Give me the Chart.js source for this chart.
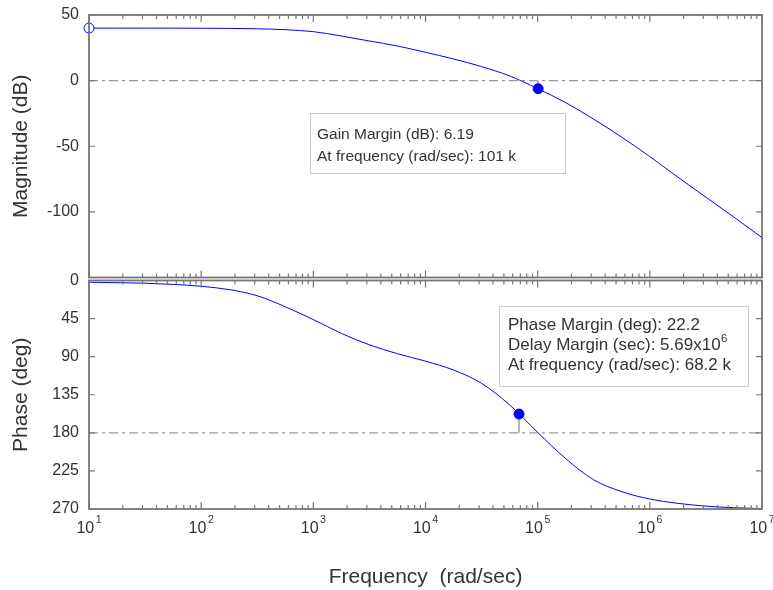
<!DOCTYPE html>
<html>
<head>
<meta charset="utf-8">
<script src="https://cdn.jsdelivr.net/npm/chart.js@4.4.1/dist/chart.umd.min.js"></script>
<style>
  html, body { margin: 0; padding: 0; background: #fff; }
  #wrap { position: relative; width: 773px; height: 590px; overflow: hidden; }
  #wrap canvas { position: absolute; left: 0; top: 0; }
</style>
</head>
<body>
<div id="wrap">
  <canvas id="mag" width="773" height="590"></canvas>
  <canvas id="phase" width="773" height="590"></canvas>
</div>
<script>
// Open-loop frequency response samples (rad/sec)
const freq = [10, 17.8, 31.6, 56.2, 100, 178, 316, 562, 1e3, 1.78e3, 3.16e3, 5.62e3,
              1e4, 1.78e4, 3.16e4, 5.62e4, 1e5, 1.78e5, 3.16e5, 5.62e5,
              1e6, 1.78e6, 3.16e6, 5.62e6, 1e7];
// Magnitude in dB
const magnitudeDb = [40, 40, 40, 40, 39.9, 39.8, 39.5, 38.8, 37.3, 34.0, 30.2, 26.4,
                     21.6, 16.5, 10.7, 3.6, -6.1, -16.8, -29.4, -43.1,
                     -57.9, -73.6, -88.8, -104, -119.6];
// Phase lag in degrees
const phaseDeg = [2.0, 2.6, 3.2, 4.6, 6.8, 10.8, 18, 31, 46.2, 62.5, 76, 86.5,
                  95.3, 105.8, 121.5, 147, 179.5, 210.5, 235.5, 249.5,
                  258.2, 263.3, 266.6, 268.5, 269.6];

// Stability margins
const gainMarginDb = 6.19;
const gainCrossFreq = 101000;
const phaseMarginDeg = 22.2;
const delayMargin = ['5.69x10', '6'];
const phaseCrossFreq = 68200;

// Axis ticks
const freqDecades = [1e1, 1e2, 1e3, 1e4, 1e5, 1e6, 1e7];
const magTicks = [50, 0, -50, -100];
const phaseTicks = [0, 45, 90, 135, 180, 225, 270];

const FONT = '"Liberation Sans", Arial, sans-serif';
const TEXT = '#333333';
const BLUE = '#0000ff';
const FRAME = '#777777';

// log axis: decades plus 2..9 minor marks
function freqTickValues() {
  const out = [];
  freqDecades.forEach((d, i) => {
    out.push(d);
    if (i < freqDecades.length - 1) for (let k = 2; k <= 9; k++) out.push(d * k);
  });
  return out.map(v => ({ value: v }));
}

function isDecade(v) {
  const lg = Math.log10(v);
  return Math.abs(lg - Math.round(lg)) < 1e-6;
}

// box frame with inward tick marks on all four sides
function drawFrame(chart) {
  const ctx = chart.ctx;
  const { left, right, top, bottom } = chart.chartArea;
  const xs = chart.scales.x, ys = chart.scales.y;
  ctx.save();
  ctx.strokeStyle = FRAME;
  ctx.lineWidth = 1.2;
  ctx.beginPath();
  xs.ticks.forEach(t => {
    const px = xs.getPixelForValue(t.value);
    const len = isDecade(t.value) ? 7 : 4;
    ctx.moveTo(px, top); ctx.lineTo(px, top + len);
    ctx.moveTo(px, bottom); ctx.lineTo(px, bottom - len);
  });
  ys.ticks.forEach(t => {
    const py = ys.getPixelForValue(t.value);
    ctx.moveTo(left, py); ctx.lineTo(left + 6, py);
    ctx.moveTo(right, py); ctx.lineTo(right - 6, py);
  });
  ctx.stroke();
  ctx.lineWidth = 1.8;
  ctx.strokeRect(left, top, right - left, bottom - top);
  ctx.restore();
}

// text box; each line is a list of [text, superscript?] runs
function drawNote(ctx, box, lines) {
  ctx.save();
  ctx.fillStyle = '#ffffff';
  ctx.fillRect(box.x, box.y, box.w, box.h);
  ctx.strokeStyle = '#c8c8c8';
  ctx.lineWidth = 1;
  ctx.strokeRect(box.x + 0.5, box.y + 0.5, box.w, box.h);
  ctx.fillStyle = TEXT;
  ctx.textBaseline = 'middle';
  ctx.textAlign = 'left';
  lines.forEach((runs, i) => {
    let x = box.x + box.padX;
    const y = box.y + box.firstLine + i * box.lineGap;
    runs.forEach(([txt, sup]) => {
      ctx.font = (sup ? box.supSize : box.size) + 'px ' + FONT;
      ctx.fillText(txt, x, sup ? y - 6 : y);
      x += ctx.measureText(txt).width + (sup ? 0 : 0.5);
    });
  });
  ctx.restore();
}

const lineStyle = {
  borderColor: BLUE, borderWidth: 1, pointRadius: 0,
  cubicInterpolationMode: 'monotone', fill: false, order: 1
};
const refStyle = {
  borderColor: '#999999', borderWidth: 1.3, borderDash: [9, 4, 3, 4],
  pointRadius: 0, fill: false, order: 3
};
const stemStyle = {
  borderColor: '#8a8a8a', borderWidth: 1.2, pointRadius: 0, fill: false, order: 2
};

function xScale(extra) {
  return Object.assign({
    type: 'logarithmic', min: freqDecades[0], max: freqDecades[freqDecades.length - 1],
    grid: { display: false, drawTicks: false },
    border: { display: false },
    ticks: { display: false },
    afterBuildTicks: s => { s.ticks = freqTickValues(); }
  }, extra);
}

function yScale(ticksArr, extra) {
  return Object.assign({
    type: 'linear',
    grid: { display: false, drawTicks: false },
    border: { display: false },
    afterBuildTicks: s => { s.ticks = ticksArr.map(v => ({ value: v })); },
    afterFit: s => { s.width = 89; s.paddingTop = 0; s.paddingBottom = 0; },
    ticks: { color: TEXT, padding: 10, font: { family: FONT, size: 16 } }
  }, extra);
}

const titleFont = { family: FONT, size: 21 };

// ---------- Magnitude ----------
new Chart(document.getElementById('mag'), {
  type: 'line',
  data: {
    datasets: [
      Object.assign({ data: [{ x: freqDecades[0], y: 0 }, { x: freqDecades[6], y: 0 }] }, refStyle),
      Object.assign({ data: [{ x: gainCrossFreq, y: 0 }, { x: gainCrossFreq, y: -gainMarginDb }] }, stemStyle),
      Object.assign({ data: freq.map((f, i) => ({ x: f, y: magnitudeDb[i] })) }, lineStyle),
      { data: [{ x: freq[0], y: magnitudeDb[0] }], showLine: false, clip: false, order: 0,
        pointRadius: 5, pointBackgroundColor: '#ffffff', pointBorderColor: BLUE, pointBorderWidth: 1 },
      { data: [{ x: gainCrossFreq, y: -gainMarginDb }], showLine: false, clip: false, order: 0,
        pointRadius: 5, pointBackgroundColor: BLUE, pointBorderColor: BLUE, pointBorderWidth: 1 }
    ]
  },
  options: {
    responsive: false, animation: false, devicePixelRatio: 1,
    layout: { padding: { top: 15, right: 11, left: 0, bottom: 0 } },
    plugins: { legend: { display: false }, tooltip: { enabled: false } },
    scales: {
      x: xScale({ afterFit: s => { s.height = 312.5; } }),
      y: yScale(magTicks, {
        min: -150, max: 50,
        title: { display: true, text: 'Magnitude (dB)', color: TEXT,
                 font: titleFont, padding: { top: 9, bottom: 0 } }
      })
    }
  },
  plugins: [{
    id: 'magDecor',
    afterDatasetsDraw: chart => drawFrame(chart),
    afterDraw: chart => drawNote(chart.ctx,
      { x: 310, y: 113, w: 255, h: 60, padX: 7, firstLine: 22, lineGap: 22, size: 15.5, supSize: 10.5 },
      [[['Gain Margin (dB): ' + gainMarginDb]],
       [['At frequency (rad/sec): ' + (gainCrossFreq / 1000) + ' k']]])
  }]
});

// ---------- Phase ----------
new Chart(document.getElementById('phase'), {
  type: 'line',
  data: {
    datasets: [
      Object.assign({ data: [{ x: freqDecades[0], y: 180 }, { x: freqDecades[6], y: 180 }] }, refStyle),
      Object.assign({ data: [{ x: phaseCrossFreq, y: 180 }, { x: phaseCrossFreq, y: 180 - phaseMarginDeg }] }, stemStyle),
      Object.assign({ data: freq.map((f, i) => ({ x: f, y: phaseDeg[i] })) }, lineStyle),
      { data: [{ x: phaseCrossFreq, y: 180 - phaseMarginDeg }], showLine: false, clip: false, order: 0,
        pointRadius: 5, pointBackgroundColor: BLUE, pointBorderColor: BLUE, pointBorderWidth: 1 }
    ]
  },
  options: {
    responsive: false, animation: false, devicePixelRatio: 1,
    layout: { padding: { top: 280.5, right: 11, left: 0, bottom: 0 } },
    plugins: { legend: { display: false }, tooltip: { enabled: false } },
    scales: {
      x: xScale({
        afterFit: s => { s.height = 81; },
        title: { display: true, text: 'Frequency  (rad/sec)', color: TEXT,
                 font: titleFont, padding: { top: 0, bottom: 0 } }
      }),
      y: yScale(phaseTicks, {
        min: 0, max: 270, reverse: true,
        title: { display: true, text: 'Phase (deg)', color: TEXT,
                 font: titleFont, padding: { top: 9, bottom: 0 } }
      })
    }
  },
  plugins: [{
    id: 'phaseDecor',
    afterDatasetsDraw: chart => {
      drawFrame(chart);
      // decade labels 10^n under the axis
      const ctx = chart.ctx, xs = chart.scales.x;
      ctx.save();
      ctx.fillStyle = TEXT;
      ctx.textBaseline = 'alphabetic';
      ctx.textAlign = 'left';
      freqDecades.forEach(d => {
        const px = xs.getPixelForValue(d);
        const exp = String(Math.round(Math.log10(d)));
        ctx.font = '16px ' + FONT;
        const w1 = ctx.measureText('10').width;
        ctx.font = '10.5px ' + FONT;
        const w2 = ctx.measureText(exp).width;
        const x0 = px - (w1 + 1.5 + w2) / 2;
        ctx.font = '16px ' + FONT;
        ctx.fillText('10', x0, 533);
        ctx.font = '10.5px ' + FONT;
        ctx.fillText(exp, x0 + w1 + 1.5, 523);
      });
      ctx.restore();
    },
    afterDraw: chart => drawNote(chart.ctx,
      { x: 499, y: 306, w: 249, h: 80, padX: 9, firstLine: 19, lineGap: 20, size: 17, supSize: 11.5 },
      [[['Phase Margin (deg): ' + phaseMarginDeg]],
       [['Delay Margin (sec): ' + delayMargin[0]], [delayMargin[1], true]],
       [['At frequency (rad/sec): ' + (phaseCrossFreq / 1000) + ' k']]])
  }]
});
</script>
</body>
</html>
